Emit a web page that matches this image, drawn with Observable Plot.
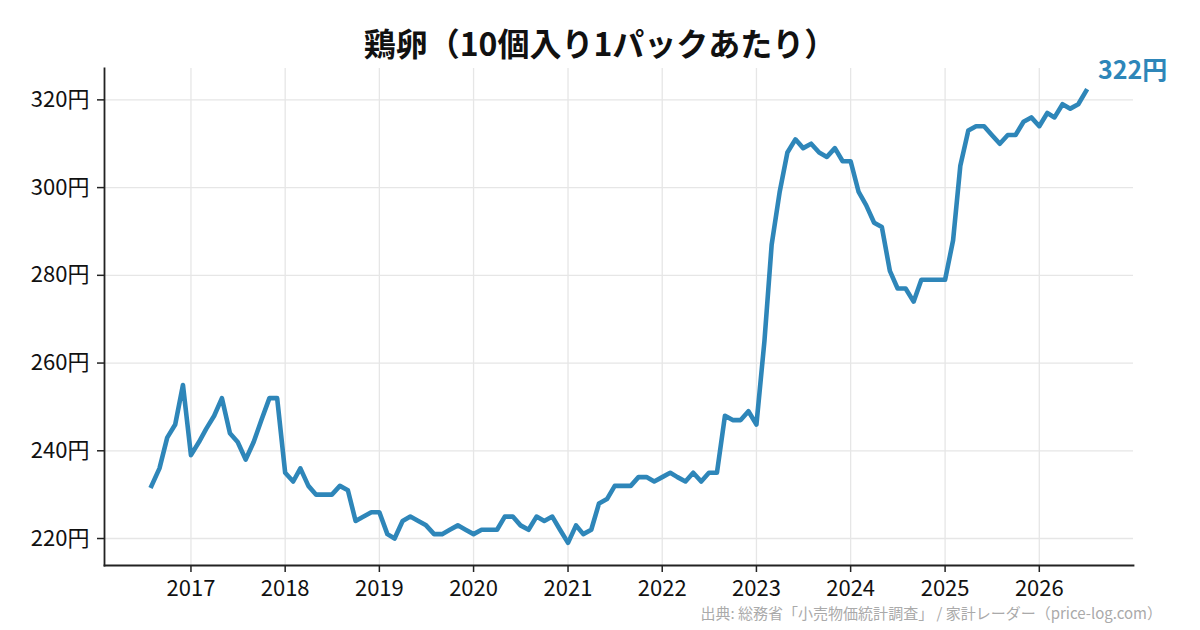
<!DOCTYPE html>
<html><head><meta charset="utf-8">
<script src="https://cdn.jsdelivr.net/npm/d3@7"></script>
<script src="https://cdn.jsdelivr.net/npm/@observablehq/plot@0.6"></script>
<style>
body{margin:0;background:#fff;font-family:"Noto Sans CJK JP",sans-serif;}
#wrap{position:relative;width:1200px;height:630px;overflow:hidden;background:#fff;}
#chart{position:absolute;left:0;top:0;}
#title{position:absolute;left:0;width:1200px;top:20px;text-align:center;font-size:32px;font-weight:700;color:#111;line-height:44px;}
#caption{position:absolute;right:38px;top:605px;font-size:15px;color:#aaa;line-height:15px;white-space:nowrap;}
</style></head><body>
<div id="wrap">
<div id="chart"></div>
<div id="title">鶏卵（10個入り1パックあたり）</div>
<div id="caption">出典: 総務省「小売物価統計調査」 / 家計レーダー（price-log.com）</div>
</div>
<script>
const startMonth = "2016-08-01";
const prices = [
  232, 236, 243, 246, 255,
  239, 242, 245, 248, 252, 244, 242, 238, 242, 247, 252, 252,
  235, 233, 236, 232, 230, 230, 230, 232, 231, 224, 225, 226,
  226, 221, 220, 224, 225, 224, 223, 221, 221, 222, 223, 222,
  221, 222, 222, 222, 225, 225, 223, 222, 225, 224, 225, 222,
  219, 223, 221, 222, 228, 229, 232, 232, 232, 234, 234, 233,
  234, 235, 234, 233, 235, 233, 235, 235, 248, 247, 247, 249,
  246, 265, 287, 299, 308, 311, 309, 310, 308, 307, 309, 306,
  306, 299, 296, 292, 291, 281, 277, 277, 274, 279, 279, 279,
  279, 288, 305, 313, 314, 314, 312, 310, 312, 312, 315, 316,
  314, 317, 316, 319, 318, 319, 322
];
const yearTicks = [2017, 2018, 2019, 2020, 2021, 2022, 2023, 2024, 2025, 2026];
const priceTicks = [220, 240, 260, 280, 300, 320];
const latestLabel = "322円";

const lineColor = "#2e86b9";
const data = prices.map((v, i) => ({date: d3.utcMonth.offset(new Date(startMonth), i), value: v}));
const last = data[data.length - 1];
const yearDates = yearTicks.map(y => new Date(Date.UTC(y, 0, 1)));
const gridStyle = {stroke: "#e6e6e6", strokeOpacity: 1, strokeWidth: 1.3};

const chart = Plot.plot({
  width: 1200, height: 630,
  marginTop: 68, marginBottom: 65, marginLeft: 104, marginRight: 67,
  style: {fontFamily: '"Noto Sans CJK JP", sans-serif', fontSize: "22px", color: "#111", background: "transparent", overflow: "visible"},
  x: {type: "utc", domain: [new Date(Date.UTC(2016, 1, 1)), new Date(Date.UTC(2027, 0, 1))]},
  y: {domain: [213.85, 327.15]},
  marks: [
    Plot.gridX({ticks: yearDates, ...gridStyle}),
    Plot.gridY({ticks: priceTicks, ...gridStyle}),
    Plot.axisX({ticks: yearDates, tickFormat: d => String(d.getUTCFullYear()), tickSize: 7, tickPadding: 8, strokeWidth: 1.5, stroke: "#222", label: null, fontSize: 22}),
    Plot.axisY({ticks: priceTicks, tickFormat: d => `${d}円`, tickSize: 7, tickPadding: 8, strokeWidth: 1.5, stroke: "#222", label: null, fontSize: 22}),
    Plot.frame({anchor: "left", stroke: "#222", strokeWidth: 1.8}),
    Plot.frame({anchor: "bottom", stroke: "#222", strokeWidth: 1.8}),
    Plot.line(data, {x: "date", y: "value", stroke: lineColor, strokeWidth: 4.6, strokeLinejoin: "round", strokeLinecap: "square"}),
    Plot.text([last], {x: "date", y: "value", text: () => latestLabel, dx: 12, dy: -20, textAnchor: "start", fill: lineColor, fontWeight: "bold", fontSize: 25})
  ]
});
document.getElementById("chart").appendChild(chart);
</script>
</body></html>
